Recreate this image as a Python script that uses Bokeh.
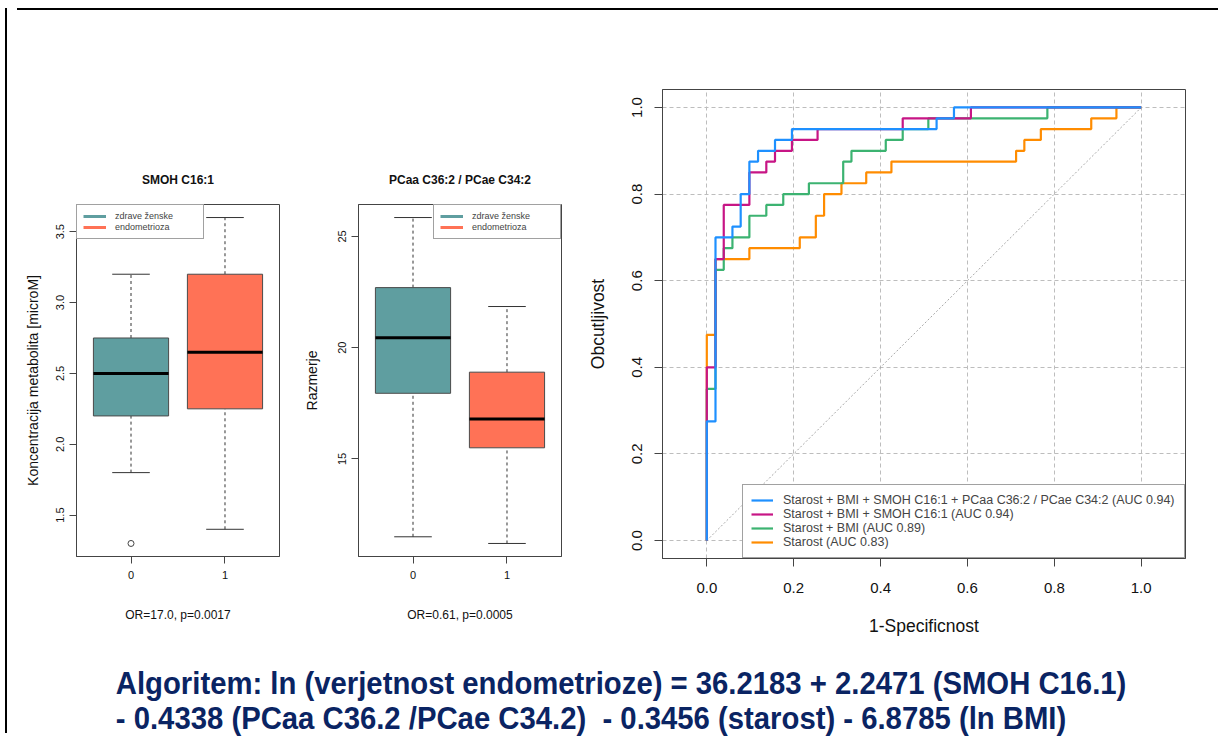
import html
import numpy as np
from bokeh.plotting import figure
from bokeh.models import Legend, LegendItem, FixedTicker, Range1d, Div, Spacer, PrintfTickFormatter
from bokeh.layouts import row, column
from bokeh.embed import file_html
from bokeh.resources import INLINE

FONT = "Liberation Sans"

# ---------------- data ----------------
box_groups = ["0", "1"]
box_positions = [1, 2]
box_colors = ["#5F9EA0", "#FF7256"]
box_legend_labels = ["zdrave ženske", "endometrioza"]

smoh_title = "SMOH C16:1"
smoh_lower_whisker = [1.8, 1.4]
smoh_q1 = [2.2, 2.25]
smoh_median = [2.5, 2.65]
smoh_q3 = [2.75, 3.2]
smoh_upper_whisker = [3.2, 3.6]
smoh_outlier_group = [1]
smoh_outlier_value = [1.3]
smoh_ticks = [1.5, 2.0, 2.5, 3.0, 3.5]

ratio_title = "PCaa C36:2 / PCae C34:2"
ratio_lower_whisker = [11.5, 11.2]
ratio_q1 = [17.95, 15.5]
ratio_median = [20.45, 16.8]
ratio_q3 = [22.7, 18.9]
ratio_upper_whisker = [25.85, 21.85]
ratio_ticks = [15, 20, 25]

roc_ticks = [0.0, 0.2, 0.4, 0.6, 0.8, 1.0]
chance_x = [0.0, 1.0]
chance_y = [0.0, 1.0]

roc_labels = [
    "Starost + BMI + SMOH C16:1 + PCaa C36:2 / PCae C34:2 (AUC 0.94)",
    "Starost + BMI + SMOH C16:1 (AUC 0.94)",
    "Starost + BMI (AUC 0.89)",
    "Starost (AUC 0.83)",
]
roc_colors = ["#1E90FF", "#C71585", "#3CB371", "#FF8C00"]

fpr_full = [0, 0, 0.02, 0.02, 0.059, 0.059, 0.078, 0.078, 0.098, 0.098, 0.118, 0.118,
            0.157, 0.157, 0.196, 0.196, 0.529, 0.529, 0.569, 0.569, 1.0]
tpr_full = [0, 0.275, 0.275, 0.7, 0.7, 0.725, 0.725, 0.8, 0.8, 0.875, 0.875, 0.9,
            0.9, 0.925, 0.925, 0.95, 0.95, 0.975, 0.975, 1.0, 1.0]

fpr_smoh = [0, 0, 0.02, 0.02, 0.039, 0.039, 0.098, 0.098, 0.137, 0.137, 0.157, 0.157,
            0.196, 0.196, 0.255, 0.255, 0.451, 0.451, 0.608, 0.608, 1.0]
tpr_smoh = [0, 0.4, 0.4, 0.65, 0.65, 0.775, 0.775, 0.85, 0.85, 0.875, 0.875, 0.9,
            0.9, 0.925, 0.925, 0.95, 0.95, 0.975, 0.975, 1.0, 1.0]

fpr_bmi = [0, 0, 0.02, 0.02, 0.039, 0.039, 0.059, 0.059, 0.098, 0.098, 0.137, 0.137,
           0.176, 0.176, 0.235, 0.235, 0.314, 0.314, 0.333, 0.333, 0.412, 0.412,
           0.451, 0.451, 0.51, 0.51, 0.784, 0.784, 1.0]
tpr_bmi = [0, 0.35, 0.35, 0.625, 0.625, 0.675, 0.675, 0.7, 0.7, 0.75, 0.75, 0.775,
           0.775, 0.8, 0.8, 0.825, 0.825, 0.875, 0.875, 0.9, 0.9, 0.925,
           0.925, 0.95, 0.95, 0.975, 0.975, 1.0, 1.0]

fpr_age = [0, 0, 0.02, 0.02, 0.098, 0.098, 0.214, 0.214, 0.251, 0.251, 0.27, 0.27,
           0.31, 0.31, 0.367, 0.367, 0.425, 0.425, 0.712, 0.712, 0.731, 0.731,
           0.769, 0.769, 0.885, 0.885, 0.943, 0.943, 1.0]
tpr_age = [0, 0.475, 0.475, 0.65, 0.65, 0.675, 0.675, 0.7, 0.7, 0.75, 0.75, 0.8,
           0.8, 0.825, 0.825, 0.85, 0.85, 0.875, 0.875, 0.9, 0.9, 0.925,
           0.925, 0.95, 0.95, 0.975, 0.975, 1.0, 1.0]

formula_lines = [
    "Algoritem: ln (verjetnost endometrioze) = 36.2183 + 2.2471 (SMOH C16.1)",
    "- 0.4338 (PCaa C36.2 /PCae C34.2)  - 0.3456 (starost) - 6.8785 (ln BMI)",
]

# ---------------- helpers ----------------
FRAME_COLOR = "#444444"


def style_axes(p, tick_size, label_size):
    for ax in (p.xaxis[0], p.yaxis[0]):
        ax.major_label_text_font = FONT
        ax.axis_label_text_font = FONT
        ax.major_label_text_font_size = tick_size
        ax.axis_label_text_font_size = label_size
        ax.axis_label_text_font_style = "normal"
        ax.major_label_text_color = "#111111"
        ax.axis_label_text_color = "#111111"
        ax.minor_tick_line_color = None
        ax.major_tick_in = 0
        ax.major_tick_line_color = FRAME_COLOR
        ax.axis_line_color = FRAME_COLOR
    p.yaxis.major_label_orientation = "vertical"


ylabel_standoff = {"Koncentracija metabolita [microM]": 13, "Razmerje": 16}


def boxplot(title, lo, q1, med, q3, hi, ticks, tick_fmt, ylabel, xlabel, legend_loc,
            min_left, min_right, out_x=None, out_y=None):
    allv = list(lo) + list(hi) + (list(out_y) if out_y else [])
    vmin, vmax = min(allv), max(allv)
    pad = 0.04 * (vmax - vmin)
    p = figure(frame_width=203, frame_height=352,
               min_border_left=min_left, min_border_right=min_right,
               min_border_top=77, min_border_bottom=87,
               x_range=Range1d(0.42, 2.58), y_range=Range1d(vmin - pad, vmax + pad),
               output_backend="svg", toolbar_location=None, title=title)
    p.title.align = "center"
    p.title.text_font = FONT
    p.title.text_font_size = "12px"
    p.title.text_font_style = "bold"
    p.title.text_color = "#111111"
    p.title.standoff = 35
    p.outline_line_color = FRAME_COLOR
    p.outline_line_width = 1
    p.xgrid.visible = False
    p.ygrid.visible = False

    pos = np.array(box_positions, dtype=float)
    p.segment(pos, q3, pos, hi, line_color="#333333", line_dash="3 3", line_width=1)
    p.segment(pos, lo, pos, q1, line_color="#333333", line_dash="3 3", line_width=1)
    p.segment(pos - 0.2, hi, pos + 0.2, hi, line_color="#333333", line_width=1)
    p.segment(pos - 0.2, lo, pos + 0.2, lo, line_color="#333333", line_width=1)
    p.vbar(x=pos, width=0.8, bottom=q1, top=q3, fill_color=box_colors,
           line_color="#4a4a4a", line_width=1)
    p.segment(pos - 0.4, med, pos + 0.4, med, line_color="black", line_width=3)
    if out_x:
        p.scatter(out_x, out_y, marker="circle", size=6, fill_color=None,
                  line_color="#444444", line_width=1)

    items = []
    for lab, col in zip(box_legend_labels, box_colors):
        # legend key only: a line with a single undefined point draws nothing in the frame
        r = p.line(x=[np.nan], y=[np.nan], line_color=col, line_width=3)
        items.append(LegendItem(label=lab, renderers=[r]))
    leg = Legend(items=items, location=legend_loc, margin=0, padding=6, spacing=1,
                 label_text_font=FONT, label_text_font_size="9px",
                 label_height=10, glyph_height=10, glyph_width=23, label_width=82,
                 label_standoff=9, border_line_color=FRAME_COLOR,
                 border_line_width=1, background_fill_alpha=1.0)
    p.add_layout(leg)

    p.xaxis.ticker = FixedTicker(ticks=box_positions)
    p.xaxis.major_label_overrides = {pos_: g for pos_, g in zip(box_positions, box_groups)}
    p.yaxis.ticker = FixedTicker(ticks=ticks)
    p.yaxis.formatter = PrintfTickFormatter(format=tick_fmt)
    style_axes(p, "11px", "14px")
    p.xaxis.axis_label_text_font_size = "12px"
    p.xaxis.major_tick_out = 7
    p.yaxis.major_tick_out = 7
    p.xaxis.major_label_standoff = 7
    p.yaxis.major_label_standoff = 5
    p.xaxis.axis_label_standoff = 26
    p.yaxis.axis_label_standoff = ylabel_standoff[ylabel]
    p.xaxis.axis_label = xlabel
    p.yaxis.axis_label = ylabel
    return p


p1 = boxplot(smoh_title, smoh_lower_whisker, smoh_q1, smoh_median, smoh_q3,
             smoh_upper_whisker, smoh_ticks, "%.1f", "Koncentracija metabolita [microM]",
             "OR=17.0, p=0.0017", "top_left", 64, 13,
             out_x=smoh_outlier_group, out_y=smoh_outlier_value)
p2 = boxplot(ratio_title, ratio_lower_whisker, ratio_q1, ratio_median, ratio_q3,
             ratio_upper_whisker, ratio_ticks, "%d", "Razmerje",
             "OR=0.61, p=0.0005", "top_right", 66, 20)

# ---------------- ROC ----------------
p3 = figure(frame_width=523, frame_height=469,
            min_border_left=81, min_border_right=26, min_border_top=74, min_border_bottom=85,
            x_range=Range1d(-0.102, 1.102), y_range=Range1d(-0.0415, 1.0415),
            output_backend="svg", toolbar_location=None)
p3.outline_line_color = FRAME_COLOR
p3.outline_line_width = 1
for g in (p3.xgrid[0], p3.ygrid[0]):
    g.ticker = FixedTicker(ticks=roc_ticks)
    g.grid_line_color = "#BDBDBD"
    g.grid_line_dash = "4 3"
    g.grid_line_width = 1
p3.line(chance_x, chance_y, line_color="#A8A8A8", line_dash="2 2", line_width=1)

curves = [(fpr_full, tpr_full), (fpr_smoh, tpr_smoh), (fpr_bmi, tpr_bmi), (fpr_age, tpr_age)]
renderers = [None] * 4
for i in reversed(range(4)):
    fx, ty = curves[i]
    renderers[i] = p3.line(fx, ty, line_color=roc_colors[i], line_width=2.2)

roc_leg = Legend(items=[LegendItem(label=l, renderers=[r]) for l, r in zip(roc_labels, renderers)],
                 location="bottom_right", margin=0, padding=8, spacing=0,
                 label_text_font=FONT, label_text_font_size="12.5px",
                 label_height=12, glyph_height=12, glyph_width=22, label_width=393,
                 label_standoff=10,
                 border_line_color=FRAME_COLOR, border_line_width=1, background_fill_alpha=1.0)
p3.add_layout(roc_leg)

p3.xaxis.ticker = FixedTicker(ticks=roc_ticks)
p3.yaxis.ticker = FixedTicker(ticks=roc_ticks)
p3.xaxis.formatter = PrintfTickFormatter(format="%.1f")
p3.yaxis.formatter = PrintfTickFormatter(format="%.1f")
style_axes(p3, "15px", "17.5px")
p3.xaxis.major_tick_out = 8
p3.yaxis.major_tick_out = 8
p3.xaxis.major_label_standoff = 16
p3.yaxis.major_label_standoff = 12
p3.xaxis.axis_label_standoff = 20
p3.yaxis.axis_label_standoff = 22
p3.xaxis.axis_label = "1-Specificnost"
p3.yaxis.axis_label = "Obcutljivost"

# ---------------- page ----------------
formula_html = "<br>".join(html.escape(line).replace("  ", "&nbsp; ") for line in formula_lines)
text_div = Div(
    text=('<div style="font-family: \'Liberation Sans\', sans-serif;'
          ' font-weight: bold; font-size: 32px; line-height: 35px; color: #0A2463;'
          ' padding-left: 108px; padding-top: 18px; white-space: nowrap;'
          ' transform: scaleX(0.915); transform-origin: 0 0;">'
          + formula_html + '</div>'),
    width=1201, height=96)

top_border = Div(text="", width=1201, height=2, styles={"background-color": "black"})
left_border = Div(text="", width=2, height=725, styles={"background-color": "black"})

box_col1 = column(Spacer(width=280, height=112), p1)
box_col2 = column(Spacer(width=289, height=112), p2)
main = column(Spacer(width=1201, height=3), top_border, row(box_col1, box_col2, p3), text_div)
layout = row(column(Spacer(width=2, height=3), left_border), main)

open("out.html", "w").write(file_html(layout, INLINE))
